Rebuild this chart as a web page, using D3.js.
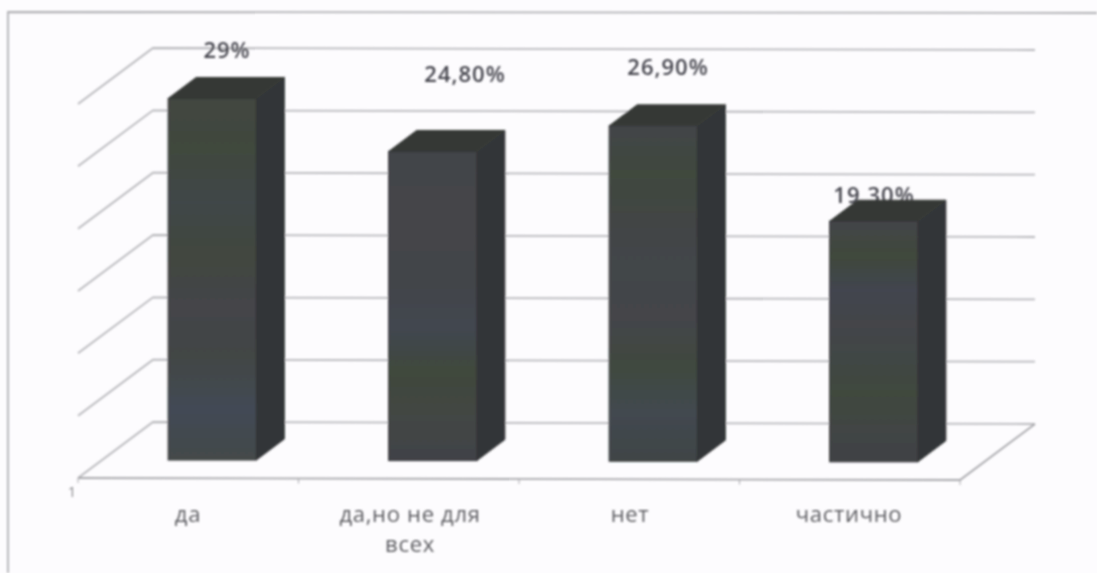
<!DOCTYPE html>
<html>
<head>
<meta charset="utf-8">
<script src="https://cdn.jsdelivr.net/npm/d3@7"></script>
<style>
  html, body { margin: 0; padding: 0; background: #fdfcfe; }
  svg { display: block; }
  text { font-family: "Open Sans", "Noto Sans", sans-serif; }
</style>
</head>
<body>
<svg></svg>
<script>
let categories = ['да', 'да,но не для всех', 'нет', 'частично'];
let values = [29, 24.8, 26.9, 19.3];
let valueLabels = ['29%', '24,80%', '26,90%', '19,30%'];
let gridValues = [0, 5, 10, 15, 20, 25, 30];

let width = 1097;
let height = 573;

// the 3d box: front edge of the floor and how far the back wall is shifted
let floorLeft = 78;
let floorRight = 960;
let floorFrontY = 478;
let wallDx = 75;
let wallDy = -56;
let barDx = 28;
let barDy = -21;
let barBase = 460;
let tilt = 2; // the scan is a little crooked, right side sits lower

let svg = d3.select('svg')
    .attr('width', width)
    .attr('height', height);

let xScale = d3.scaleBand()
    .domain(categories)
    .range([floorLeft, floorRight])
    .paddingInner(0.6)
    .paddingOuter(0.3);

let yScale = d3.scaleLinear()
    .domain([0, 30])
    .range([floorFrontY + wallDy, floorFrontY + wallDy - 374]);

let defs = svg.append('defs');

defs.append('filter')
    .attr('id', 'scan')
    .append('feGaussianBlur')
    .attr('stdDeviation', 0.8);

// scanned bars have faint green and blue patches in them
let patches = [
    ['#434640', '#40483e', '#404648', '#42473f', '#444449', '#434645', '#424a55', '#44484a'],
    ['#434448', '#44454a', '#44444a', '#43444a', '#424750', '#40483c', '#434644', '#414347'],
    ['#434548', '#3f483e', '#434545', '#43464a', '#44454a', '#41483f', '#424850', '#414546'],
    ['#444549', '#40483c', '#42454f', '#444449', '#414745', '#40483e', '#424544', '#404244']
];

patches.forEach((stops, i) => {
    let grad = defs.append('linearGradient')
        .attr('id', 'front' + i)
        .attr('x1', 0).attr('y1', 0).attr('x2', 0).attr('y2', 1);
    stops.forEach((c, j) => {
        grad.append('stop')
            .attr('offset', j / (stops.length - 1))
            .attr('stop-color', c);
    });
});

let chart = svg.append('g').attr('filter', 'url(#scan)');

// only the top and left edges of the frame made it into the scan
chart.append('path')
    .attr('fill', 'none')
    .attr('stroke', '#b0b0b4')
    .attr('stroke-width', 1.8)
    .attr('d', d3.line()([[8, height], [8, 12], [width, 13]]));

// back wall lines with the slanted part on the left side
chart.selectAll('.grid')
    .data(gridValues)
    .enter()
    .append('path')
    .attr('class', 'grid')
    .attr('fill', 'none')
    .attr('stroke', '#b8b8bc')
    .attr('stroke-width', 1.8)
    .attr('d', (item) => {
        let y = yScale(item);
        return d3.line()([
            [floorLeft, y - wallDy],
            [floorLeft + wallDx, y],
            [floorRight + wallDx, y + tilt]
        ]);
    });

// floor
chart.append('path')
    .attr('fill', 'none')
    .attr('stroke', '#a8a8ac')
    .attr('stroke-width', 1.8)
    .attr('d', d3.line()([
        [floorLeft, floorFrontY],
        [floorRight, floorFrontY + tilt],
        [floorRight + wallDx, yScale(0) + tilt]
    ]));

// small ticks under the floor
let tickXs = d3.range(categories.length + 1).map((i) => {
    return floorLeft + i * xScale.step();
});
chart.selectAll('.tick')
    .data(tickXs)
    .enter()
    .append('line')
    .attr('class', 'tick')
    .attr('x1', (d) => d)
    .attr('x2', (d) => d)
    .attr('y1', (d) => floorFrontY + (d - floorLeft) * tilt / 882)
    .attr('y2', (d) => floorFrontY + 5 + (d - floorLeft) * tilt / 882)
    .attr('stroke', '#a8a8ac');

chart.append('text')
    .attr('x', 72)
    .attr('y', 497)
    .attr('text-anchor', 'middle')
    .attr('font-size', 15)
    .attr('fill', '#8a8a8e')
    .text('1');

// value labels sit above the bars, the last one runs under its bar
let labelPos = [[227, 58], [465, 82], [668, 75], [874, 203]];

chart.selectAll('.value')
    .data(valueLabels)
    .enter()
    .append('text')
    .attr('class', 'value')
    .attr('x', (d, i) => labelPos[i][0])
    .attr('y', (d, i) => labelPos[i][1])
    .attr('text-anchor', 'middle')
    .attr('font-size', 22)
    .attr('font-weight', 600)
    .attr('letter-spacing', 1)
    .attr('fill', '#45454d')
    .text((d) => d);

let barHeight = (item) => yScale(0) - yScale(item);
let barX = (item, index) => xScale(categories[index]) + 24;
let barTilt = (index) => index * 0.6;

let bars = chart.selectAll('.bar')
    .data(values)
    .enter()
    .append('g')
    .attr('class', 'bar');

bars.append('path')
    .attr('fill', '#333537')
    .attr('stroke', '#333537')
    .attr('d', (item, index) => {
        let x = barX(item, index) + xScale.bandwidth();
        let base = barBase + barTilt(index);
        let top = base - barHeight(item);
        return d3.line()([
            [x, top], [x + barDx, top + barDy],
            [x + barDx, base + barDy], [x, base]
        ]) + 'Z';
    });

bars.append('path')
    .attr('fill', '#363936')
    .attr('stroke', '#363936')
    .attr('d', (item, index) => {
        let x = barX(item, index);
        let w = xScale.bandwidth();
        let top = barBase + barTilt(index) - barHeight(item);
        return d3.line()([
            [x, top], [x + barDx, top + barDy],
            [x + w + barDx, top + barDy], [x + w, top]
        ]) + 'Z';
    });

bars.append('rect')
    .attr('x', barX)
    .attr('y', (item, index) => barBase + barTilt(index) - barHeight(item))
    .attr('width', xScale.bandwidth())
    .attr('height', barHeight)
    .attr('stroke', '#333436')
    .attr('stroke-width', 1)
    .attr('fill', (item, index) => 'url(#front' + index + ')');

let catLines = [['да'], ['да,но не для', 'всех'], ['нет'], ['частично']];
let catX = [188, 410, 630, 849];

catLines.forEach((lines, i) => {
    lines.forEach((line, j) => {
        chart.append('text')
            .attr('x', catX[i])
            .attr('y', 522 + j * 30)
            .attr('text-anchor', 'middle')
            .attr('font-size', 22)
            .attr('letter-spacing', 0.7)
            .attr('fill', '#5c5c60')
            .text(line);
    });
});
</script>
</body>
</html>
